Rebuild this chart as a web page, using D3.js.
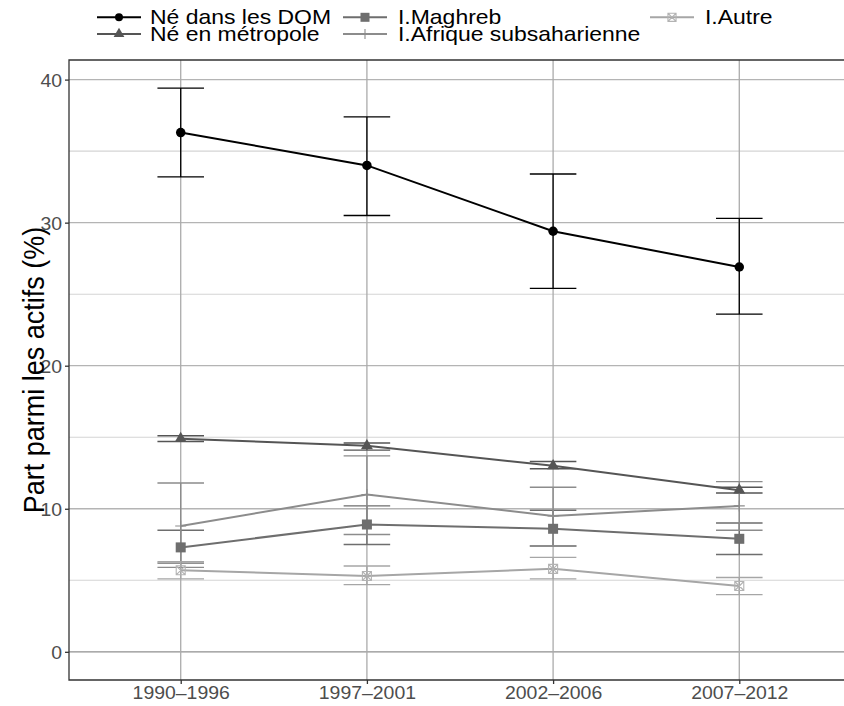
<!DOCTYPE html>
<html><head><meta charset="utf-8">
<script src="https://cdn.jsdelivr.net/npm/d3@7"></script>
<style>html,body{margin:0;padding:0;background:#fff;overflow:hidden;}svg{display:block;overflow:hidden;font-family:"Liberation Sans",Arial,sans-serif;}</style>
</head><body>
<svg id="chart" width="844" height="706"></svg>
<script>
const periods = ["1990–1996","1997–2001","2002–2006","2007–2012"];
const seriesNames = ["Né dans les DOM","Né en métropole","I.Maghreb","I.Afrique subsaharienne","I.Autre"];
const domVal = [36.3, 34.0, 29.4, 26.9];
const domLo  = [33.2, 30.5, 25.4, 23.6];
const domHi  = [39.4, 37.4, 33.4, 30.3];
const metroVal = [14.9, 14.4, 13.0, 11.3];
const metroLo  = [14.7, 14.1, 12.8, 11.1];
const metroHi  = [15.1, 14.6, 13.3, 11.5];
const maghVal = [7.3, 8.9, 8.6, 7.9];
const maghLo  = [6.2, 7.5, 7.4, 6.8];
const maghHi  = [8.5, 10.2, 9.9, 9.0];
const afrVal = [8.8, 11.0, 9.5, 10.2];
const afrLo  = [5.9, 8.2, 7.4, 8.5];
const afrHi  = [11.8, 13.7, 11.5, 11.9];
const autVal = [5.7, 5.3, 5.8, 4.6];
const autLo  = [5.1, 4.7, 5.1, 4.0];
const autHi  = [6.3, 6.0, 6.6, 5.2];
const yTicks = [0, 10, 20, 30, 40];
const yMinor = [5, 15, 25, 35];
const yTitle = "Part parmi les actifs (%)";

const colors = ["#000000","#555555","#6e6e6e","#8c8c8c","#a6a6a6"];
const shapes = ["circle","triangle","square","plus","squarecross"];
const series = [
  {v:domVal, lo:domLo, hi:domHi},
  {v:metroVal, lo:metroLo, hi:metroHi},
  {v:maghVal, lo:maghLo, hi:maghHi},
  {v:afrVal, lo:afrLo, hi:afrHi},
  {v:autVal, lo:autLo, hi:autHi}
].map((s,i)=>({name:seriesNames[i], color:colors[i], shape:shapes[i],
  pts: periods.map((p,j)=>({p, v:s.v[j], lo:s.lo[j], hi:s.hi[j]}))}));

const svg = d3.select("#chart");
const L = 69, R = 851, T = 60, B = 680;
const x = d3.scalePoint().domain(periods).range([L, R]).padding(0.6);
const yMax = d3.max(series.flatMap(s=>s.pts.map(d=>d.hi)));
const ext = 0.05 * yMax;
const y = d3.scaleLinear().domain([0 - ext, yMax + ext]).range([B, T]);

// grid
const g = svg.append("g");
g.selectAll(".minor").data(yMinor).join("line")
  .attr("x1", L).attr("x2", R).attr("y1", d=>y(d)).attr("y2", d=>y(d))
  .attr("stroke", "#d4d4d4").attr("stroke-width", 1.1);
g.selectAll(".major").data(yTicks).join("line")
  .attr("x1", L).attr("x2", R).attr("y1", d=>y(d)).attr("y2", d=>y(d))
  .attr("stroke", d=> d===0 ? "#8f8f8f" : "#b4b4b4").attr("stroke-width", 1.3);
g.selectAll(".vx").data(periods).join("line")
  .attr("x1", d=>x(d)).attr("x2", d=>x(d)).attr("y1", T).attr("y2", B)
  .attr("stroke", "#ababab").attr("stroke-width", 1.3);

// panel border (right side lies outside the picture)
svg.append("path").attr("d", `M${R + 20},${T}H${L}V${B}H${R + 20}`)
  .attr("fill","none").attr("stroke","#333333").attr("stroke-width",1.3);

// axes ticks
const yAxis = d3.axisLeft(y).tickValues(yTicks).tickSize(4).tickPadding(4).tickFormat(d3.format("d"));
const ya = svg.append("g").attr("transform",`translate(${L},0)`).call(yAxis);
ya.select(".domain").remove();
ya.selectAll(".tick line").attr("stroke","#333333").attr("stroke-width",1.3);
ya.selectAll(".tick text").attr("fill","#4d4d4d").attr("font-size",18)
  .attr("font-family","Liberation Sans, Arial, sans-serif")
  .attr("dy","0.36em").attr("x",null)
  .attr("transform","translate(-7,0) scale(1.08,1)");

const xAxis = d3.axisBottom(x).tickSize(4).tickPadding(4);
const xa = svg.append("g").attr("transform",`translate(0,${B})`).call(xAxis);
xa.select(".domain").remove();
xa.selectAll(".tick line").attr("stroke","#333333").attr("stroke-width",1.3);
xa.selectAll(".tick text").attr("fill","#4d4d4d").attr("font-size",18)
  .attr("font-family","Liberation Sans, Arial, sans-serif")
  .attr("y",null).attr("dy",null)
  .attr("transform","translate(0,19) scale(1.08,1)");

// y title
svg.append("text").text(yTitle)
  .attr("transform",`translate(44,${(T+B)/2}) rotate(-90) scale(1,1.12)`)
  .attr("text-anchor","middle").attr("font-size",27).attr("fill","#000");

// marker drawing
function marker(sel, shape, color, cx, cy, s) {
  const gg = sel.append("g").attr("transform",`translate(${cx},${cy})`);
  if (shape === "circle") {
    gg.append("circle").attr("r", s*0.5).attr("fill", color);
  } else if (shape === "triangle") {
    gg.append("path").attr("d", d3.symbol(d3.symbolTriangle, s*s*0.62)()).attr("fill", color);
  } else if (shape === "square") {
    gg.append("rect").attr("x",-s*0.5).attr("y",-s*0.5).attr("width",s).attr("height",s).attr("fill",color);
  } else if (shape === "plus") {
    const a = s*0.55;
    gg.append("path").attr("d",`M${-a},0H${a}M0,${-a}V${a}`).attr("stroke",color).attr("stroke-width",1.1).attr("fill","none");
  } else if (shape === "squarecross") {
    const a = s*0.45;
    gg.append("path").attr("d",`M${-a},${-a}H${a}V${a}H${-a}ZM${-a},${-a}L${a},${a}M${a},${-a}L${-a},${a}`)
      .attr("stroke","#b3b3b3").attr("stroke-width",1.1).attr("fill","none");
  }
}

// error bars
const ebW = x.step()*0.125;
const eb = svg.append("g");
series.forEach(s=>{
  const sg = eb.append("g").attr("stroke", s.color).attr("stroke-width", s.color==="#000000"?1.3:1.4).attr("fill","none");
  s.pts.forEach(d=>{
    sg.append("path").attr("d",
      `M${x(d.p)-ebW},${y(d.hi)}H${x(d.p)+ebW}M${x(d.p)},${y(d.hi)}V${y(d.lo)}M${x(d.p)-ebW},${y(d.lo)}H${x(d.p)+ebW}`);
  });
});

// lines
const line = d3.line().x(d=>x(d.p)).y(d=>y(d.v));
series.forEach(s=>{
  svg.append("path").datum(s.pts).attr("d", line).attr("fill","none")
    .attr("stroke", s.color).attr("stroke-width", 2);
});

// points
series.forEach(s=>{
  s.pts.forEach(d=>{
    marker(svg, s.shape, s.color, x(d.p), y(d.v), s.shape==="circle"?9.5:10);
  });
});

// legend
const legPos = [
  {kx:97, tx:150, y:17.3},
  {kx:97, tx:150, y:34},
  {kx:343, tx:398, y:17.3},
  {kx:343, tx:398, y:34},
  {kx:650, tx:705, y:17.3}
];
const lg = svg.append("g");
series.forEach((s,i)=>{
  const p = legPos[i];
  lg.append("line").attr("x1",p.kx).attr("x2",p.kx+44).attr("y1",p.y).attr("y2",p.y)
    .attr("stroke", s.color).attr("stroke-width",2);
  marker(lg, s.shape, s.color, p.kx+22, p.y, s.shape==="circle"?8:9);
  lg.append("text").text(s.name)
    .attr("transform",`translate(${p.tx},${p.y+7}) scale(1.12,1)`)
    .attr("font-size",20.5).attr("fill","#000");
});
</script>
</body></html>
